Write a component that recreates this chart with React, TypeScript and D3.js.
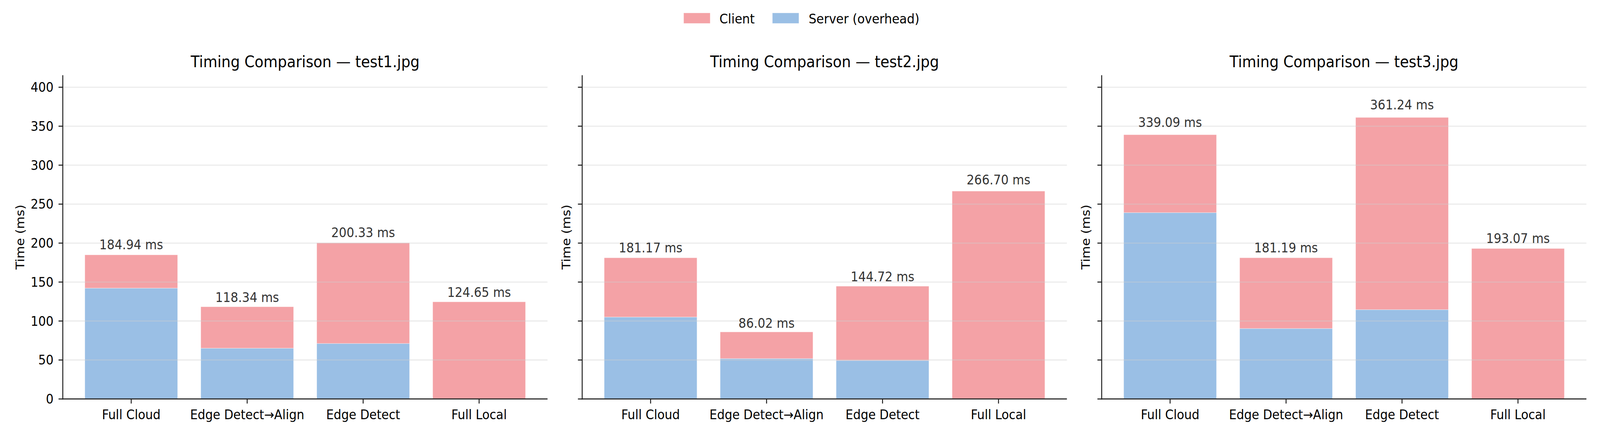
import React, { useEffect } from "react";
import * as d3 from "d3";

// ---- data ----
const categories = ["Full Cloud", "Edge Detect→Align", "Edge Detect", "Full Local"];
const images = ["test1.jpg", "test2.jpg", "test3.jpg"];
const totals1 = [184.94, 118.34, 200.33, 124.65];
const totals2 = [181.17, 86.02, 144.72, 266.7];
const totals3 = [339.09, 181.19, 361.24, 193.07];
const server1 = [142.2, 65.1, 71.2, 0];
const server2 = [105.1, 51.8, 49.4, 0];
const server3 = [239.1, 90.4, 114.6, 0];
const seriesNames = ["Client", "Server (overhead)"];

const totalsAll = [totals1, totals2, totals3];
const serverAll = [server1, server2, server3];

// ---- style ----
const W = 4400;
const H = 1116;
const FONT = "DejaVu Sans";
const CLIENT = "#f4a2a6";
const SERVER = "#9abfe5";
const panelLefts = [172.7, 1601, 3029.6];
const panelWidth = 1333;
const plotTop = 192.5;
const plotBottom = 1021.2;

export default function App() {
  useEffect(() => {
    document.body.style.margin = "0";
    document.body.style.overflow = "hidden";
  }, []);

  const maxTotal = d3.max(totalsAll.flat()) as number;
  const y = d3.scaleLinear().domain([0, maxTotal * 1.15]).range([plotBottom, plotTop]);
  const yTicks = y.ticks(10);

  return (
    <div style={{ position: "absolute", left: 0, top: 0, width: "100vw", height: "100vh" }}>
      <svg
        viewBox={`0 0 ${W} ${H}`}
        preserveAspectRatio="none"
        style={{ display: "block", width: "100vw", height: "100vh", background: "#fff" }}
        fontFamily={FONT}
      >
        <rect x={0} y={0} width={W} height={H} fill="#fff" />
        {/* legend */}
        <g>
          <rect x={1880} y={33} width={73} height={27} fill={CLIENT} stroke="#fff" strokeOpacity={0.5} strokeWidth={1.3} />
          <text x={1978.5} y={60.5} fontSize={33.5} fill="#000">{seriesNames[0]}</text>
          <rect x={2124} y={33} width={73} height={27} fill={SERVER} stroke="#fff" strokeOpacity={0.5} strokeWidth={1.3} />
          <text x={2224} y={60.5} fontSize={33.5} fill="#000">{seriesNames[1]}</text>
        </g>
        {images.map((img, pi) => {
          const left = panelLefts[pi];
          const x = d3
            .scaleBand<string>()
            .domain(categories)
            .range([left, left + panelWidth])
            .paddingInner(0.2)
            .paddingOuter(0.19);
          const totals = totalsAll[pi];
          const server = serverAll[pi];
          const cx = left + panelWidth / 2;
          return (
            <g key={img}>
              <text x={cx} y={172.5} fontSize={40} textAnchor="middle" fill="#000">
                {`Timing Comparison — ${img}`}
              </text>
              {/* bars */}
              {categories.map((c, i) => {
                const bx = x(c) as number;
                const bw = x.bandwidth();
                const s = server[i];
                const t = totals[i];
                return (
                  <g key={c}>
                    {s > 0 && (
                      <rect x={bx} y={y(s)} width={bw} height={y(0) - y(s)} fill={SERVER} stroke="#fff" strokeOpacity={0.45} strokeWidth={1.3} />
                    )}
                    <rect x={bx} y={y(t)} width={bw} height={y(s) - y(t)} fill={CLIENT} stroke="#fff" strokeOpacity={0.45} strokeWidth={1.3} />
                  </g>
                );
              })}
              {/* grid above bars */}
              {yTicks.map((v) => (
                <line key={v} x1={left} x2={left + panelWidth} y1={y(v)} y2={y(v)} stroke="#cfcfcf" strokeOpacity={0.45} strokeWidth={2.7} />
              ))}
              {/* bar labels */}
              {categories.map((c, i) => {
                const t = totals[i];
                const bx = (x(c) as number) + x.bandwidth() / 2;
                return (
                  <text key={c} x={bx} y={y(t * 1.017) - 8} fontSize={33} textAnchor="middle" fill="#333">
                    {`${t.toFixed(2)} ms`}
                  </text>
                );
              })}
              {/* y ticks */}
              {yTicks.map((v) => (
                <g key={v}>
                  <line x1={left - 11.7} x2={left} y1={y(v)} y2={y(v)} stroke="#222" strokeWidth={2.67} />
                  {pi === 0 && (
                    <text x={left - 25.5} y={y(v) + 12} fontSize={33} textAnchor="end" fill="#000">
                      {v}
                    </text>
                  )}
                </g>
              ))}
              {/* x ticks */}
              {categories.map((c) => {
                const tx = (x(c) as number) + x.bandwidth() / 2;
                return (
                  <g key={c}>
                    <line x1={tx} x2={tx} y1={plotBottom} y2={plotBottom + 11.7} stroke="#222" strokeWidth={2.67} />
                    <text x={tx} y={1072.7} fontSize={33} textAnchor="middle" fill="#000">
                      {c}
                    </text>
                  </g>
                );
              })}
              {/* spines */}
              <line x1={left} x2={left} y1={plotTop} y2={plotBottom + 1.33} stroke="#222" strokeWidth={2.67} />
              <line x1={left - 1.33} x2={left + panelWidth} y1={plotBottom} y2={plotBottom} stroke="#222" strokeWidth={2.67} />
              {/* y label */}
              <text
                transform={`translate(${pi === 0 ? 66.3 : left - 32.6},${(plotTop + plotBottom) / 2}) rotate(-90)`}
                fontSize={33}
                textAnchor="middle"
                fill="#000"
              >
                Time (ms)
              </text>
            </g>
          );
        })}
      </svg>
    </div>
  );
}
